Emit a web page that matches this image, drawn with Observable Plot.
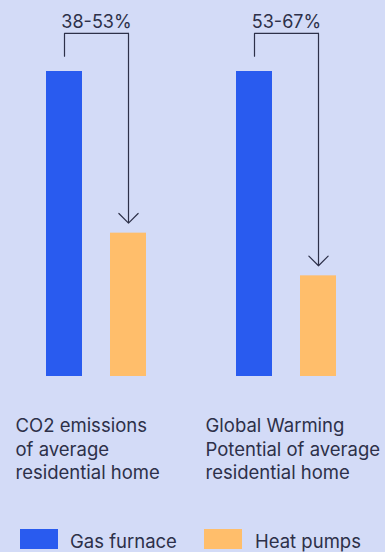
<!DOCTYPE html>
<html>
<head>
<meta charset="utf-8">
<script src="https://cdn.jsdelivr.net/npm/d3@7"></script>
<script src="https://cdn.jsdelivr.net/npm/@observablehq/plot@0.6"></script>
<style>
  html, body { margin: 0; padding: 0; }
  body {
    width: 385px; height: 552px; overflow: hidden;
    background: #d3dbf7;
    font-family: Inter, "Noto Sans", sans-serif;
    color: #2d3049;
  }
  #chart svg { display: block; }
  .legend { position: relative; height: 52px; }
  .legend .swatch { position: absolute; width: 38px; height: 20px; top: 29px; }
  .legend .label { position: absolute; top: 32px; font-size: 18.5px; line-height: 18px; white-space: nowrap; }
</style>
</head>
<body>
<div id="chart"></div>
<div class="legend" id="legend"></div>
<script>
// Emissions of a home heated by a gas furnace vs. a heat pump (gas furnace = 100)
const groups = ["CO2 emissions", "Global Warming Potential"];
const groupLabels = ["CO2 emissions\nof average\nresidential home", "Global Warming\nPotential of average\nresidential home"];
const systems = ["Gas furnace", "Heat pumps"];
const gasFurnace = [100, 100];
const heatPumps = [47, 33];
const reductionLabels = ["38-53%", "53-67%"];

const colors = ["#295bef", "#ffbe6b"];
const ink = "#2d3049";

const bars = groups.flatMap((g, i) => [
  {group: g, system: systems[0], value: gasFurnace[i]},
  {group: g, system: systems[1], value: heatPumps[i]}
]);

// bracket from the furnace bar over to the heat-pump bar, in y units
const bracketTop = 112.5;
const legGap = 5;
const tipGap = 3.3;
const brackets = groups.flatMap((g, i) => [
  {group: g, x: systems[0], y: gasFurnace[i] + legGap},
  {group: g, x: systems[0], y: bracketTop},
  {group: g, x: systems[1], y: bracketTop}
]);
const arrows = groups.map((g, i) => ({
  group: g, x: systems[1], y1: bracketTop, y2: heatPumps[i] + tipGap
}));
const notes = groups.map((g, i) => ({group: g, text: reductionLabels[i], label: groupLabels[i]}));

const chart = Plot.plot({
  width: 385,
  height: 500,
  marginTop: 71,
  marginBottom: 124,
  marginLeft: 1,
  marginRight: 4,
  style: {background: "transparent", fontFamily: "Inter, 'Noto Sans', sans-serif", color: ink, overflow: "visible"},
  fx: {domain: groups, padding: 0, axis: null},
  x: {domain: systems, paddingInner: 0.43, paddingOuter: 0.677, axis: null},
  y: {domain: [0, 100], axis: null},
  color: {domain: systems, range: colors},
  marks: [
    Plot.barY(bars, {fx: "group", x: "system", y: "value", fill: "system"}),
    Plot.line(brackets, {fx: "group", x: "x", y: "y", z: "group", stroke: ink, strokeWidth: 1.2}),
    Plot.arrow(arrows, {fx: "group", x: "x", y1: "y1", y2: "y2", stroke: ink, strokeWidth: 1.2, headAngle: 90, headLength: 17}),
    Plot.text(notes, {fx: "group", y: () => bracketTop, text: "text", lineAnchor: "bottom", dy: -5, fontSize: 18, fill: ink}),
    Plot.text(notes, {fx: "group", frameAnchor: "bottom-left", text: "label", textAnchor: "start", lineAnchor: "top", lineHeight: 1.27, dx: 14, dy: 39, fontSize: 18.5, fill: ink})
  ]
});
document.getElementById("chart").append(chart);

// legend below the chart
const legend = document.getElementById("legend");
const legendX = [20, 204];
systems.forEach((s, i) => {
  const sw = document.createElement("div");
  sw.className = "swatch";
  sw.style.left = legendX[i] + "px";
  sw.style.background = colors[i];
  const lab = document.createElement("div");
  lab.className = "label";
  lab.style.left = (legendX[i] + 50 + i) + "px";
  lab.textContent = s;
  legend.append(sw, lab);
});
</script>
</body>
</html>
